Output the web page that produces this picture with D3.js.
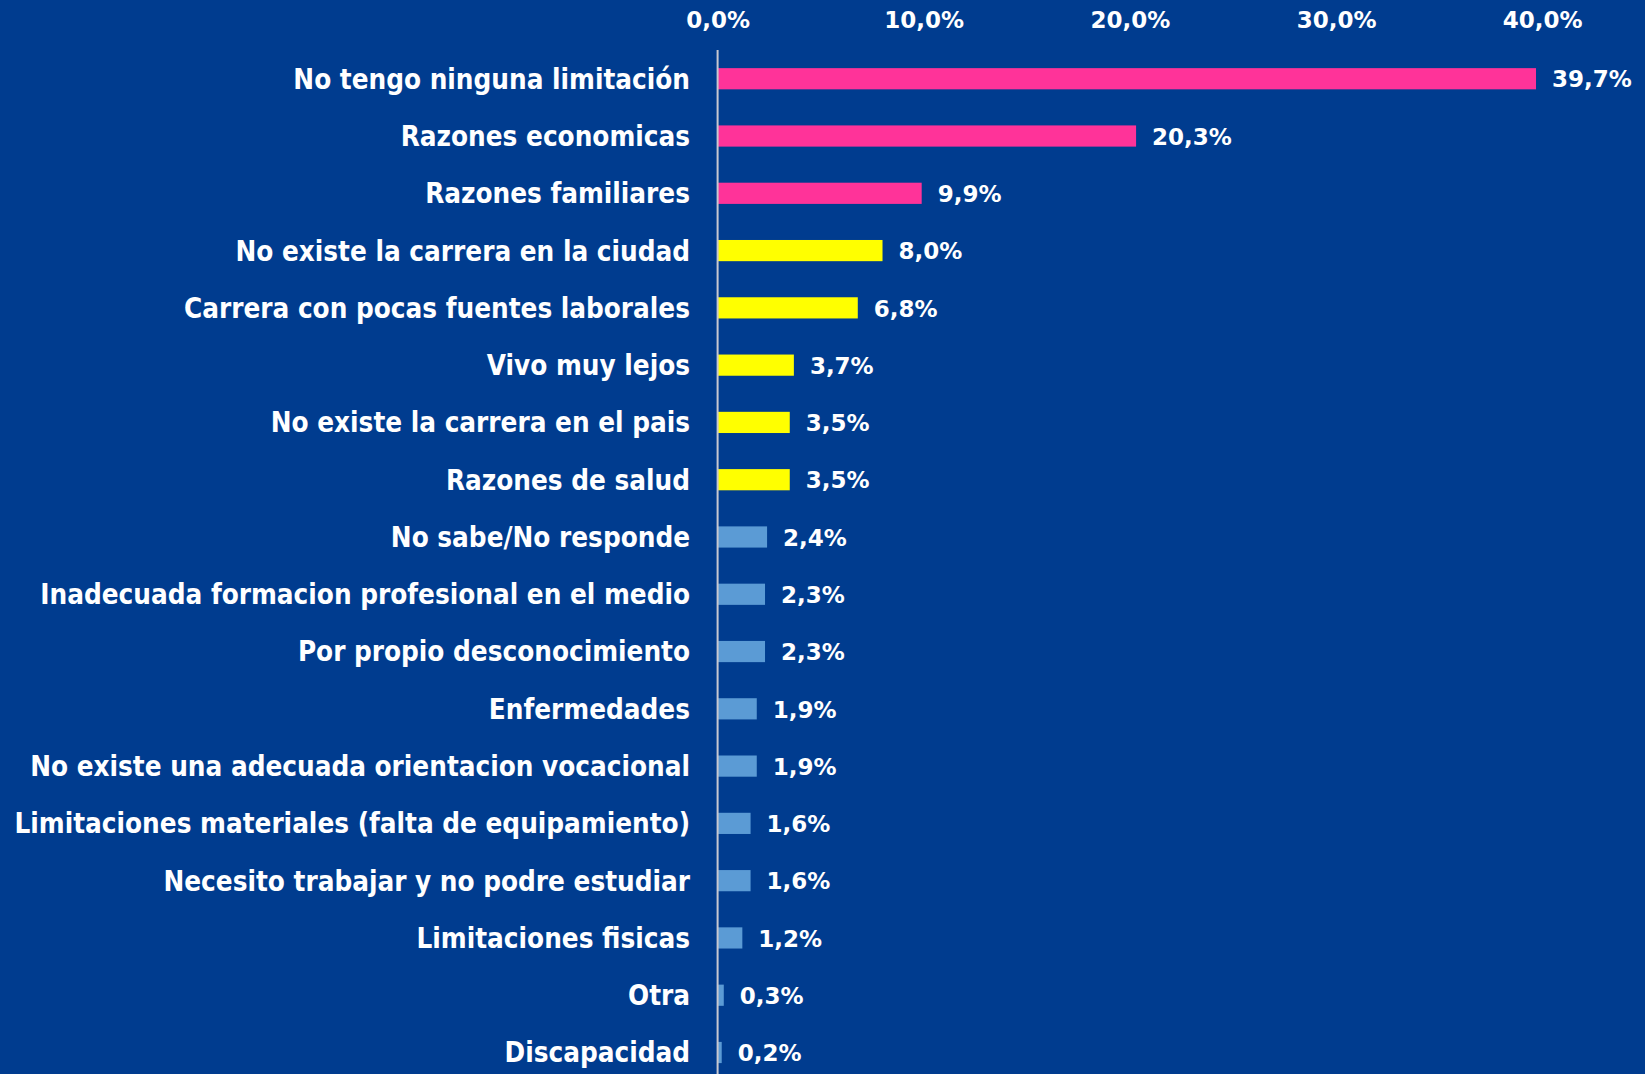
<!DOCTYPE html>
<html>
<head>
<meta charset="utf-8">
<script src="https://cdn.jsdelivr.net/npm/d3@7"></script>
<style>
  html, body { margin: 0; padding: 0; background: #003C8F; }
  svg { display: block; }
</style>
</head>
<body>
<svg id="chart" width="1645" height="1074"></svg>
<script>
// Motivos / limitaciones para estudiar la carrera deseada
const categories = [
  "No tengo ninguna limitación",
  "Razones economicas",
  "Razones familiares",
  "No existe la carrera en la ciudad",
  "Carrera con pocas fuentes laborales",
  "Vivo muy lejos",
  "No existe la carrera en el pais",
  "Razones de salud",
  "No sabe/No responde",
  "Inadecuada formacion profesional en el medio",
  "Por propio desconocimiento",
  "Enfermedades",
  "No existe una adecuada orientacion vocacional",
  "Limitaciones materiales (falta de equipamiento)",
  "Necesito trabajar y no podre estudiar",
  "Limitaciones fisicas",
  "Otra",
  "Discapacidad"
];
const values = [39.7, 20.3, 9.9, 8.0, 6.8, 3.7, 3.5, 3.5, 2.4, 2.3, 2.3, 1.9, 1.9, 1.6, 1.6, 1.2, 0.3, 0.2];
// colour group per bar: 0 = rosa, 1 = amarillo, 2 = celeste
const groups = [0, 0, 0, 1, 1, 1, 1, 1, 2, 2, 2, 2, 2, 2, 2, 2, 2, 2];
const tickValues = [0, 10, 20, 30, 40];

const groupColors = ["#FF3399", "#FFFF00", "#5B9BD5"];
const fmt = v => d3.format(".1f")(v).replace(".", ",") + "%";

const svg = d3.select("#chart");
const W = 1645, H = 1074;

svg.append("rect").attr("width", W).attr("height", H).attr("fill", "#003C8F");

const x = d3.scaleLinear().domain([0, 40]).range([717.6, 1542.2]);
const y = d3.scaleBand()
  .domain(categories)
  .range([50.1, 50.1 + 57.28 * categories.length])
  .paddingInner(0.63)
  .paddingOuter(0.315);

// eje superior con porcentajes
const axis = d3.axisTop(x).tickValues(tickValues).tickSize(0).tickPadding(0).tickFormat(fmt);
const gAxis = svg.append("g").call(axis);
gAxis.select(".domain").remove();
gAxis.selectAll("text")
  .attr("y", 28)
  .attr("dy", null)
  .attr("fill", "#FFFFFF")
  .attr("font-family", "'DejaVu Sans', sans-serif")
  .attr("font-weight", "bold")
  .attr("font-size", 23)
  .attr("text-anchor", "middle");

// barras
svg.append("g").selectAll("rect")
  .data(values)
  .join("rect")
  .attr("x", x(0))
  .attr("y", (d, i) => y(categories[i]))
  .attr("width", d => x(d) - x(0))
  .attr("height", y.bandwidth())
  .attr("fill", (d, i) => groupColors[groups[i]]);

// línea vertical del eje de categorías
svg.append("line")
  .attr("x1", x(0)).attr("x2", x(0))
  .attr("y1", 50).attr("y2", H)
  .attr("stroke", "#C8C8D0")
  .attr("stroke-width", 2);

// etiquetas de categoría
svg.append("g").selectAll("text")
  .data(categories)
  .join("text")
  .attr("x", 690)
  .attr("y", d => y(d) + y.bandwidth() / 2)
  .attr("dy", "0.36em")
  .attr("text-anchor", "end")
  .attr("fill", "#FFFFFF")
  .attr("font-family", "'DejaVu Sans Condensed', 'DejaVu Sans', sans-serif")
  .attr("font-weight", "bold")
  .attr("font-size", 27.6)
  .text(d => d);

// etiquetas de valor
svg.append("g").selectAll("text")
  .data(values)
  .join("text")
  .attr("x", d => x(d) + 16)
  .attr("y", (d, i) => y(categories[i]) + y.bandwidth() / 2)
  .attr("dy", "0.38em")
  .attr("fill", "#FFFFFF")
  .attr("font-family", "'DejaVu Sans', sans-serif")
  .attr("font-weight", "bold")
  .attr("font-size", 23)
  .text(d => fmt(d));
</script>
</body>
</html>
